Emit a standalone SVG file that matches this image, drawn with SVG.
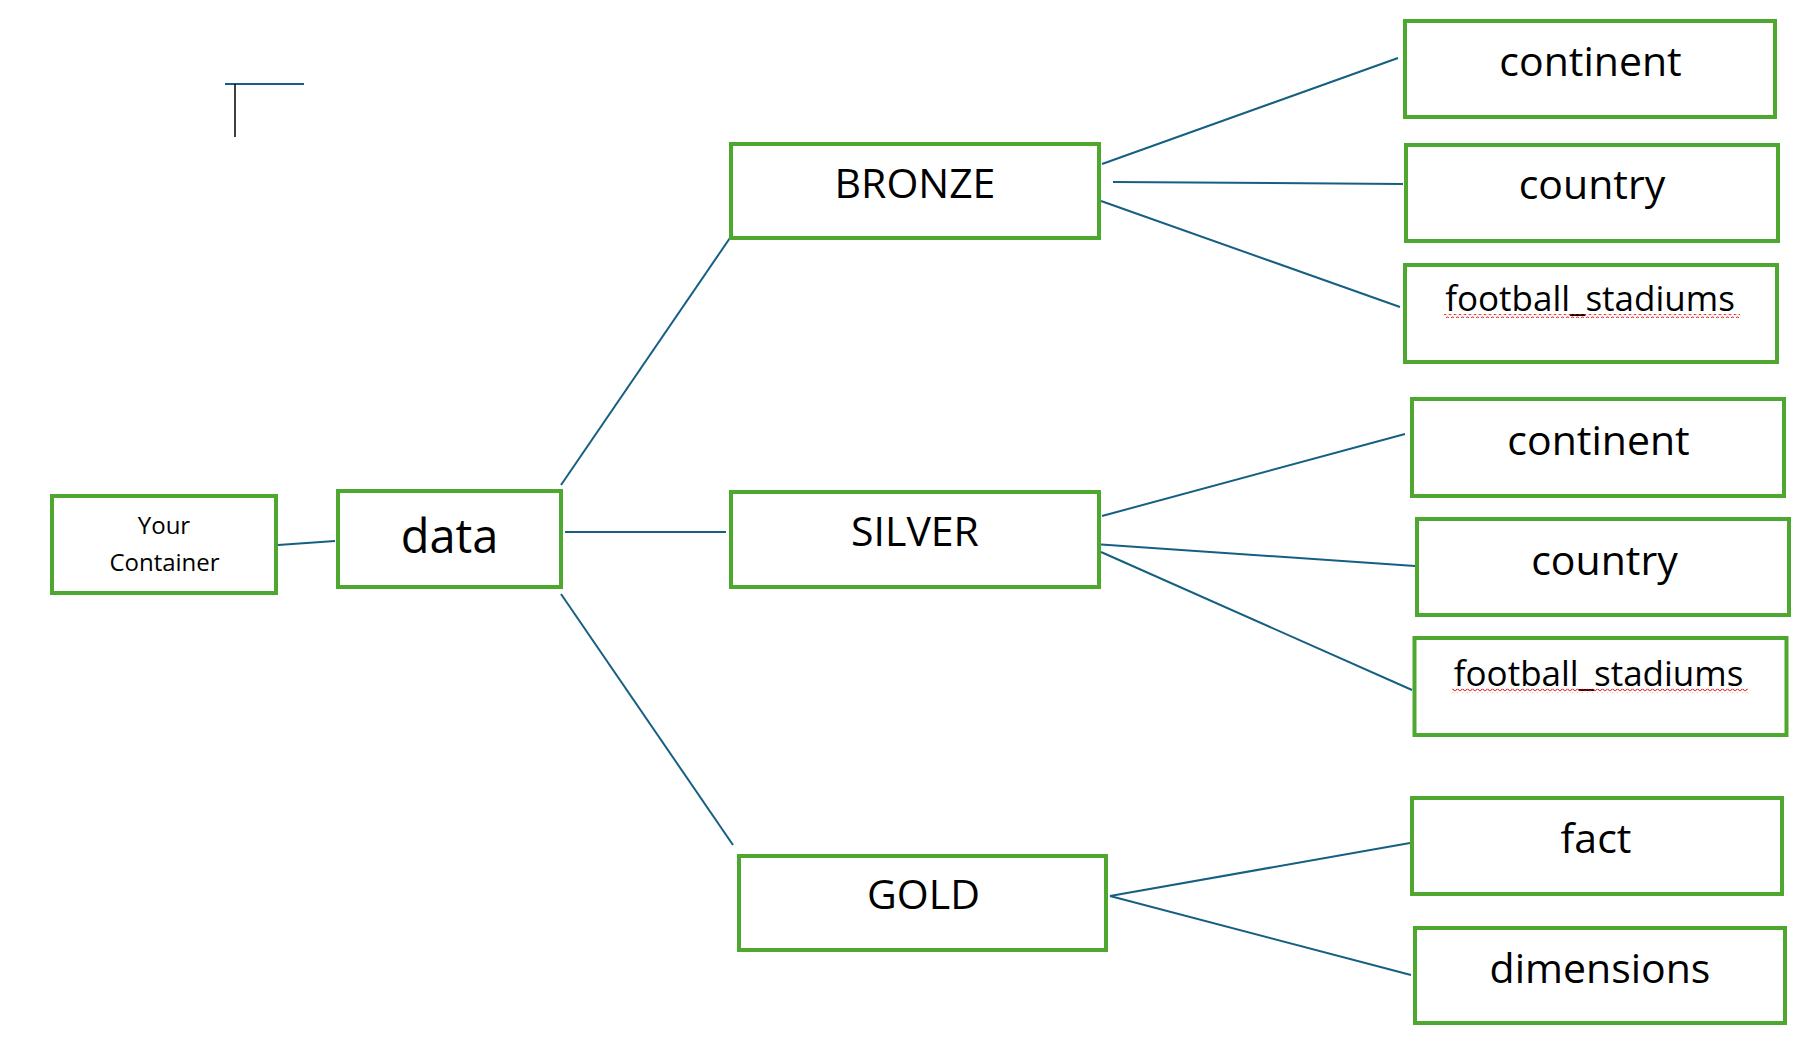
<svg xmlns="http://www.w3.org/2000/svg" width="1818" height="1044" viewBox="0 0 1818 1044">
<style>
  .box { fill: #ffffff; stroke: #4EA72E; stroke-width: 4; }
  .lbl { font-family: "Open Sans", "Liberation Sans", sans-serif; fill: #000000; text-anchor: middle; }
  .l41 { font-size: 41px; }
  .l35 { font-size: 35px; }
  .conn line { stroke: #156082; stroke-width: 2; stroke-linecap: butt; }
</style>
<defs>
  <pattern id="squiggle" x="0" y="0" width="5" height="4" patternUnits="userSpaceOnUse">
    <polyline points="0,3.3 2.5,0.7 5,3.3" fill="none" stroke="#E00000" stroke-width="1"/>
  </pattern>
</defs>
<rect x="0" y="0" width="1818" height="1044" fill="#ffffff"/>

<g id="mark">
  <line x1="225" y1="84" x2="304" y2="84" stroke="#156082" stroke-width="2"/>
  <line x1="235" y1="84" x2="235" y2="137" stroke="#000000" stroke-width="1.5"/>
</g>

<g id="connectors" class="conn">
  <line x1="278" y1="545" x2="335" y2="541"/>
  <line x1="561" y1="485" x2="732" y2="235"/>
  <line x1="565" y1="532" x2="726" y2="532"/>
  <line x1="561" y1="594" x2="733" y2="845"/>
  <line x1="1102" y1="164" x2="1398" y2="58"/>
  <line x1="1113" y1="182" x2="1403" y2="184"/>
  <line x1="1101" y1="201" x2="1400" y2="307"/>
  <line x1="1102" y1="516" x2="1405" y2="434"/>
  <line x1="1094" y1="544" x2="1415" y2="566"/>
  <line x1="1101" y1="552" x2="1412" y2="690"/>
  <line x1="1110" y1="896" x2="1410" y2="843"/>
  <line x1="1110" y1="896" x2="1411" y2="975"/>
</g>

<g id="your-container">
  <rect class="box" x="52" y="496" width="224" height="97"/>
  <text class="lbl" x="164" y="534" font-size="24">Your</text>
  <text class="lbl" x="164.5" y="571" font-size="24">Container</text>
</g>

<g id="data">
  <rect class="box" x="338" y="491" width="223" height="96"/>
  <text class="lbl" x="449.5" y="553" font-size="47">data</text>
</g>

<g id="bronze">
  <rect class="box" x="731" y="144" width="368" height="94"/>
  <text class="lbl l41" x="915" y="198">BRONZE</text>
</g>

<g id="silver">
  <rect class="box" x="731" y="492" width="368" height="95"/>
  <text class="lbl l41" x="915" y="546">SILVER</text>
</g>

<g id="gold">
  <rect class="box" x="739" y="856" width="367" height="94"/>
  <text class="lbl l41" x="923.5" y="909">GOLD</text>
</g>

<g id="bronze-continent">
  <rect class="box" x="1405" y="21" width="370" height="96"/>
  <text class="lbl l41" x="1590.5" y="76">continent</text>
</g>

<g id="bronze-country">
  <rect class="box" x="1406" y="145" width="372" height="96"/>
  <text class="lbl l41" x="1592" y="199">country</text>
</g>

<g id="bronze-football-stadiums">
  <rect class="box" x="1405" y="265" width="372" height="97"/>
  <text class="lbl l35" x="1590" y="311">football_stadiums</text>
  <rect x="1444" y="314" width="296" height="4" fill="url(#squiggle)"/>
</g>

<g id="silver-continent">
  <rect class="box" x="1412" y="399" width="372" height="97"/>
  <text class="lbl l41" x="1598.5" y="455">continent</text>
</g>

<g id="silver-country">
  <rect class="box" x="1417" y="519" width="372" height="96"/>
  <text class="lbl l41" x="1604.5" y="574.5">country</text>
</g>

<g id="silver-football-stadiums">
  <rect class="box" x="1414.5" y="638" width="372" height="97"/>
  <text class="lbl l35" x="1598.6" y="685.6">football_stadiums</text>
  <rect x="1452" y="688.6" width="296" height="4" fill="url(#squiggle)"/>
</g>

<g id="gold-fact">
  <rect class="box" x="1412" y="798" width="370" height="96"/>
  <text class="lbl l41" x="1596" y="853">fact</text>
</g>

<g id="gold-dimensions">
  <rect class="box" x="1415" y="928" width="370" height="95"/>
  <text class="lbl l41" x="1600" y="983">dimensions</text>
</g>
</svg>
